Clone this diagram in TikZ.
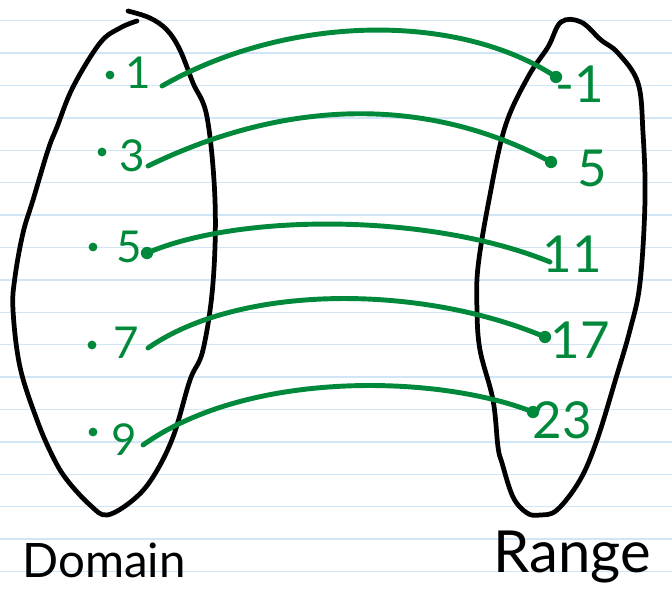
\documentclass[tikz,border=0pt]{standalone}
\usepackage{fontspec}
\setmainfont{Lato}
\definecolor{inkgreen}{RGB}{0,137,58}
\definecolor{ruleblue}{RGB}{208,230,246}

\begin{document}
\begin{tikzpicture}[x=0.02cm, y=-0.02cm,
        oval/.style={line width=2.7pt, line cap=round, line join=round},
        link/.style={inkgreen, line width=2.8pt, line cap=round},
        elem/.style={inkgreen, font=\fontsize{25}{28}\selectfont, inner sep=0pt},
        img/.style={inkgreen, font=\fontsize{29}{32}\selectfont, inner sep=0pt},
        pt/.style={circle, fill=inkgreen, inner sep=0pt, minimum size=5pt},
        tip/.style={circle, fill=inkgreen, inner sep=0pt, minimum size=7pt},
        title/.style={inner sep=0pt, anchor=base west}]
    \useasboundingbox[fill=white] (0,0) rectangle (672,598);
    % ruled paper
    \foreach \k in {0,...,17}
        \draw[ruleblue, line width=0.8pt] (0,20.7+32.4*\k) -- (672,20.7+32.4*\k);

    % the two sets
    \draw[oval] plot[smooth, tension=0.6] coordinates {(128,11) (150,18) (167,30) (180,50) (193,83) (207,117) (215,200) (213,283) (203,350) (190,380) (173,437) (153,477) (133,500) (107,515) (90,505) (67,480) (53,457) (37,420) (20,367) (13,310) (15,277) (23,233) (33,200) (48,150) (57,127) (73,87) (100,43) (120,28) (137,21)};
    \draw[oval] plot[smooth cycle, tension=0.6] coordinates {(561,22) (581,22) (601,40) (618,53) (638,83) (643,133) (645,200) (640,283) (630,330) (616,378) (597,440) (580,480) (557,510) (540,515) (527,513) (513,497) (502,463) (498,447) (493,400) (480,350) (477,310) (478,267) (489,200) (505,127) (528,77) (548,47)};

    % domain
    \foreach \n/\x/\y/\dx/\dy in {1/138/73/110/75, 3/132/156/102/152, 5/129/247/93/247, 7/126/343/92/345, 9/124/440/93/432} {
        \node[pt] (dp\n) at (\dx,\dy) {};
        \node[elem] (d\n) at (\x,\y) {\n};
    }
    % range
    \foreach \n/\lab/\x/\y in {1/-1/580/84, 5/5/592/168, 11/11/572/254, 17/17/580/340, 23/23/562/420}
        \node[img] (r\n) at (\x,\y) {\lab};
    \node[tip] (t1) at (556,77) {};
    \node[tip] (t5) at (551,162) {};
    \coordinate (t11) at (550,262);
    \node[tip] (t17) at (545,337) {};
    \node[tip] (t23) at (533,412) {};

    \coordinate (s1) at (162,86);
    \coordinate (s3) at (148,166);
    \node[tip] (s5) at (147,253) {};
    \coordinate (s7) at (148,348);
    \coordinate (s9) at (143,445);

    \draw[link] (s1) .. controls (290,13) and (460,13) .. (t1.center);
    \draw[link] (s3) .. controls (290,97) and (430,97) .. (t5.center);
    \draw[link] (s5.center) .. controls (240,213) and (430,213) .. (t11);
    \draw[link] (s7) .. controls (240,284) and (420,284) .. (t17.center);
    \draw[link] (s9) .. controls (250,369) and (440,375) .. (t23.center);

    \node[title, font=\fontsize{27}{30}\selectfont] (dom) at (22,577) {Domain};
    \node[title, font=\fontsize{33}{36}\selectfont] (ran) at (493,572) {Range};
\end{tikzpicture}
\end{document}
